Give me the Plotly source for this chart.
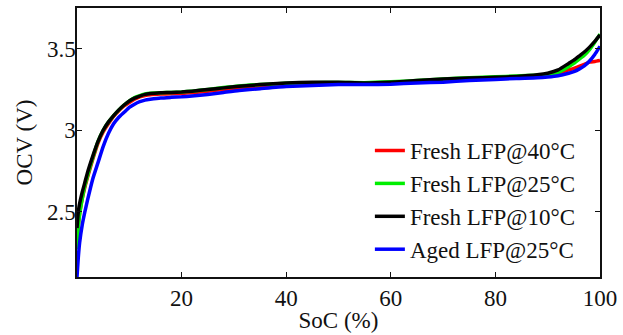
import plotly.graph_objects as go

SOC = [0, 0.25, 0.5, 1, 1.5, 2, 3, 4, 5, 6, 7, 8, 9, 10, 11, 12, 13, 14, 16, 18, 20, 22, 25, 28, 31,
       35, 40, 45, 50, 55, 60, 65, 70, 75, 80, 84, 88, 90, 92, 94, 95, 96, 97, 98, 99, 100]

OCV_FRESH_40 = [2.30, 2.42, 2.49, 2.58, 2.65, 2.71, 2.82, 2.92, 2.99, 3.04, 3.085, 3.12, 3.15, 3.17, 3.19,
                3.205, 3.213, 3.218, 3.222, 3.224, 3.226, 3.23, 3.24, 3.25, 3.26, 3.27, 3.28, 3.285, 3.287,
                3.287, 3.29, 3.298, 3.306, 3.313, 3.32, 3.325, 3.333, 3.338, 3.35, 3.37, 3.38, 3.392,
                3.405, 3.418, 3.422, 3.428]

OCV_FRESH_25 = [2.27, 2.40, 2.48, 2.58, 2.66, 2.72, 2.83, 2.93, 3.00, 3.05, 3.09, 3.125, 3.155, 3.18, 3.20,
                3.213, 3.222, 3.227, 3.23, 3.232, 3.235, 3.24, 3.25, 3.262, 3.272, 3.28, 3.288, 3.292, 3.293,
                3.292, 3.297, 3.305, 3.315, 3.322, 3.328, 3.333, 3.338, 3.342, 3.355, 3.39, 3.41, 3.435,
                3.46, 3.495, 3.54, 3.59]

OCV_FRESH_10 = [2.40, 2.50, 2.55, 2.62, 2.68, 2.74, 2.84, 2.93, 3.00, 3.05, 3.09, 3.125, 3.155, 3.18, 3.197,
                3.21, 3.22, 3.225, 3.23, 3.232, 3.235, 3.24, 3.25, 3.26, 3.27, 3.28, 3.29, 3.295, 3.295,
                3.29, 3.295, 3.305, 3.315, 3.32, 3.325, 3.33, 3.34, 3.35, 3.37, 3.41, 3.43, 3.455,
                3.48, 3.51, 3.545, 3.585]

OCV_AGED_25 = [2.10, 2.22, 2.31, 2.42, 2.50, 2.57, 2.70, 2.80, 2.90, 2.98, 3.04, 3.08, 3.11, 3.14, 3.16,
               3.175, 3.185, 3.19, 3.198, 3.202, 3.205, 3.21, 3.22, 3.232, 3.244, 3.255, 3.268, 3.275, 3.28,
               3.28, 3.283, 3.29, 3.295, 3.305, 3.312, 3.318, 3.322, 3.327, 3.335, 3.35, 3.36, 3.375,
               3.395, 3.425, 3.465, 3.515]

SERIES = [
    ("Fresh LFP@40°C", OCV_FRESH_40, "#ff0000"),
    ("Fresh LFP@25°C", OCV_FRESH_25, "#00ee00"),
    ("Fresh LFP@10°C", OCV_FRESH_10, "#000000"),
    ("Aged LFP@25°C", OCV_AGED_25, "#0000ff"),
]

X_TICKS = [20, 40, 60, 80, 100]
Y_TICKS = [2.5, 3, 3.5]
Y_TICK_TEXT = ["2.5", "3", "3.5"]

FONT = "Liberation Serif"

fig = go.Figure()
for name, vals, color in SERIES:
    fig.add_trace(go.Scatter(x=SOC, y=vals, mode="lines", name=name,
                             line=dict(color=color, width=3.5, shape="spline", smoothing=0.5)))

fig.update_layout(
    width=623, height=335,
    margin=dict(l=77, r=20, t=6, b=57),
    paper_bgcolor="white", plot_bgcolor="white",
    font=dict(family=FONT, size=23, color="#111111"),
    showlegend=True,
    legend=dict(x=0.56, y=0.55, xanchor="left", yanchor="top",
                bgcolor="rgba(0,0,0,0)", borderwidth=0,
                font=dict(family=FONT, size=23, color="#111111"),
                itemwidth=30, tracegroupgap=0),
)
fig.update_xaxes(range=[0, 100], tickvals=X_TICKS, ticks="inside", ticklen=5, tickwidth=1.2,
                 tickcolor="#111111", showline=True, linecolor="#111111", linewidth=1.5,
                 mirror="ticks", showgrid=False, zeroline=False,
                 tickfont=dict(family=FONT, size=23),
                 title=dict(text="SoC (%)", standoff=2, font=dict(family=FONT, size=23)))
fig.update_yaxes(range=[2.1, 3.75], tickvals=Y_TICKS, ticktext=Y_TICK_TEXT, ticks="inside", ticklen=5,
                 tickwidth=1.2, tickcolor="#111111", showline=True, linecolor="#111111", linewidth=1.5,
                 mirror="ticks", showgrid=False, zeroline=False, ticklabelstandoff=-5,
                 tickfont=dict(family=FONT, size=23),
                 title=dict(text="OCV (V)", standoff=8, font=dict(family=FONT, size=23)))

fig.write_html("out.html")
